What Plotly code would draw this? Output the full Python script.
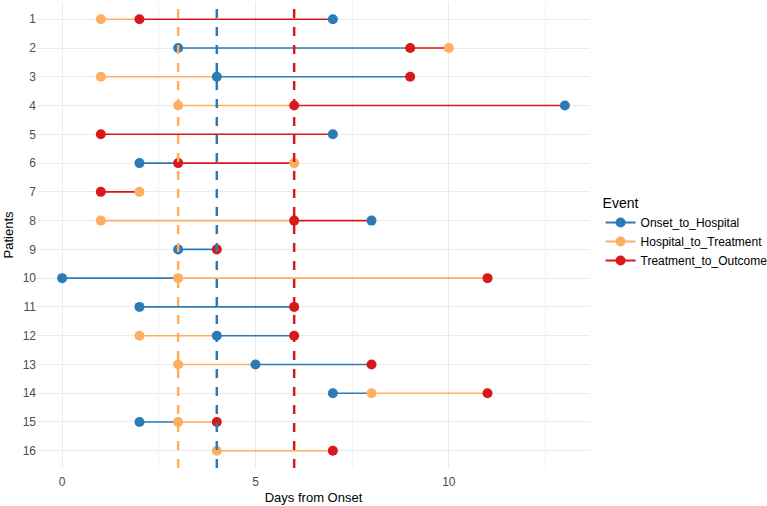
import plotly.graph_objects as go

patients = list(range(1, 17))
onset_to_hospital = [7, 3, 4, 13, 7, 2, None, 8, 3, 0, 2, 4, 5, 7, 2, None]
hospital_to_treatment = [1, 10, 1, 3, None, 6, 2, 1, None, 3, None, 2, 3, 8, 3, 4]
treatment_to_outcome = [2, 9, 9, 6, 1, 3, 1, 6, 4, 11, 6, 6, 8, 11, 4, 7]

event_names = ["Onset_to_Hospital", "Hospital_to_Treatment", "Treatment_to_Outcome"]
event_values = [onset_to_hospital, hospital_to_treatment, treatment_to_outcome]
event_colors = ["#2c7bb6", "#fdae61", "#d7191c"]
median_lines = [4, 3, 6]

fig = go.Figure()

# segments: coloured by the event at the left end of each segment
seg_x = {e: [] for e in event_names}
seg_y = {e: [] for e in event_names}
for i, p in enumerate(patients):
    pts = [(vals[i], ev) for ev, vals in zip(event_names, event_values) if vals[i] is not None]
    pts.sort(key=lambda t: t[0])
    for (x0, e0), (x1, _) in zip(pts[:-1], pts[1:]):
        seg_x[e0] += [x0, x1, None]
        seg_y[e0] += [p, p, None]

for ev, col in zip(event_names, event_colors):
    fig.add_trace(go.Scatter(x=seg_x[ev], y=seg_y[ev], mode="lines",
                             line=dict(color=col, width=1.6), showlegend=False,
                             hoverinfo="skip"))

for ev, vals, col in zip(event_names, event_values, event_colors):
    xs = [v for v in vals if v is not None]
    ys = [p for p, v in zip(patients, vals) if v is not None]
    fig.add_trace(go.Scatter(x=xs, y=ys, mode="markers", name=ev,
                             marker=dict(color=col, size=10), showlegend=False))
    fig.add_trace(go.Scatter(x=[None], y=[None], mode="lines+markers", name=ev,
                             marker=dict(color=col, size=10),
                             line=dict(color=col, width=2)))

for m, col in zip(median_lines, event_colors):
    fig.add_shape(type="line", x0=m, x1=m, y0=0, y1=1, yref="paper", xref="x",
                  line=dict(color=col, width=2.5, dash="dash"))

fig.update_layout(
    width=767, height=506,
    margin=dict(l=37, r=177, t=2, b=38, autoexpand=False),
    plot_bgcolor="white", paper_bgcolor="white",
    font=dict(family="Liberation Sans, Arial, sans-serif", color="#4d4d4d", size=12),
    legend=dict(title=dict(text="Event", font=dict(size=14, color="black")),
                xref="container", yref="container",
                x=0.783, xanchor="left", y=0.54, yanchor="middle",
                font=dict(size=12, color="black"), itemwidth=30),
)
fig.update_xaxes(range=[-0.65, 13.65], tickvals=[0, 5, 10], showgrid=True,
                 gridcolor="#ebebeb", gridwidth=1, zeroline=False, showline=False,
                 ticks="", ticklabelstandoff=5,
                 minor=dict(tickvals=[2.5, 7.5, 12.5], showgrid=True,
                            gridcolor="#f3f3f3", gridwidth=1),
                 title=dict(text="Days from Onset", font=dict(size=13, color="black"),
                            standoff=4))
fig.update_yaxes(range=[16.6, 0.4], tickvals=patients, ticktext=[str(p) for p in patients],
                 showgrid=True, gridcolor="#ebebeb", gridwidth=1, zeroline=False,
                 ticks="", title=dict(text="Patients", font=dict(size=13, color="black"),
                                      standoff=6))

fig.write_html("out.html")
